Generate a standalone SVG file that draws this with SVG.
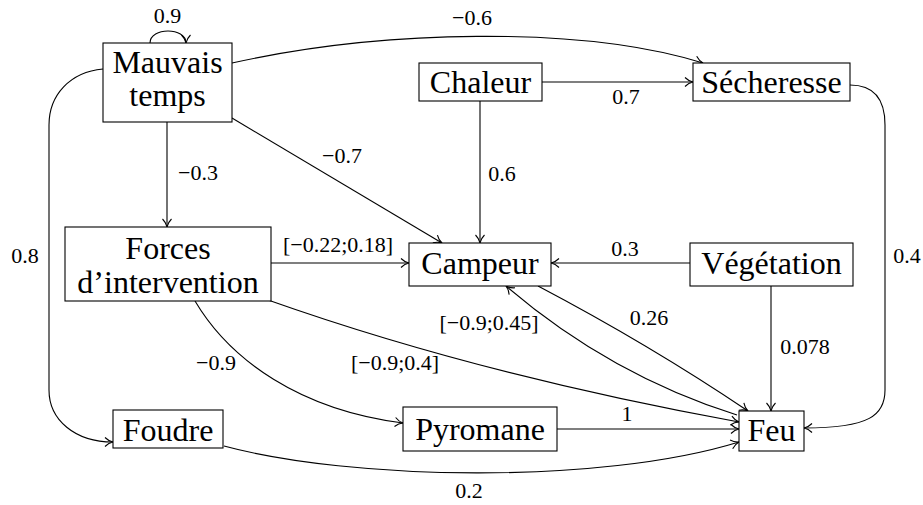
<svg xmlns="http://www.w3.org/2000/svg" width="923" height="505" viewBox="0 0 923 505">
<style>
.box{fill:#fff;stroke:#000;stroke-width:1.1}
.e{fill:none;stroke:#000;stroke-width:1.1;marker-end:url(#arr)}
</style>
<defs>
<marker id="arr" markerUnits="userSpaceOnUse" markerWidth="12" markerHeight="12" viewBox="-10 -6 12 12" refX="0" refY="0" orient="auto" overflow="visible">
<path d="M-8,-4.5 C-5,-1.5 -2,-0.4 0,0 C-2,0.4 -5,1.5 -8,4.5" fill="none" stroke="#000" stroke-width="1.1"/>
</marker>
</defs>
<rect width="923" height="505" fill="#fff"/>
<g id="connectors">
<path class="e" d="M150,43 C150,27 186,27 186,43"/>
<path class="e" d="M232,63 C380,30 580,25 703,63"/>
<path class="e" d="M542,82 L693,82"/>
<path class="e" d="M480,101 L480,243"/>
<path class="e" d="M232,118 L442,243"/>
<path class="e" d="M167,122 L167,227"/>
<path class="e" d="M103,69 C70,72 49,95 49,125 L49,390 C49,420 75,442 113,442"/>
<path class="e" d="M850,85 C875,85 885,100 885,125 L885,390 C885,415 870,428 804,428"/>
<path class="e" d="M271,263 L409,263"/>
<path class="e" d="M690,263 L551,263"/>
<path class="e" d="M771,286 L771,411"/>
<path class="e" d="M538,286 Q 650,345 748,411"/>
<path class="e" d="M737,415 Q 610,375 506,286"/>
<path class="e" d="M268,300 Q 480,375 739,422"/>
<path class="e" d="M195,301 C230,360 300,410 403,423"/>
<path class="e" d="M557,429 L739,429"/>
<path class="e" d="M224,446 C350,480 600,485 739,442"/>
</g>
<g id="mauvais"><rect class="box" x="103" y="43" width="129" height="79"/><text font-family="Liberation Serif" font-size="32" text-anchor="middle" x="167.5" y="73">Mauvais</text><text font-family="Liberation Serif" font-size="32" text-anchor="middle" x="167.5" y="106">temps</text></g>
<g id="chaleur"><rect class="box" x="419" y="63" width="123" height="38"/><text font-family="Liberation Serif" font-size="32" text-anchor="middle" x="480.5" y="93">Chaleur</text></g>
<g id="secheresse"><rect class="box" x="693" y="63" width="157" height="38"/><text font-family="Liberation Serif" font-size="32" text-anchor="middle" x="771.5" y="93">Sécheresse</text></g>
<g id="forces"><rect class="box" x="65" y="227" width="206" height="74"/><text font-family="Liberation Serif" font-size="32" text-anchor="middle" x="168" y="259">Forces</text><text font-family="Liberation Serif" font-size="32" text-anchor="middle" x="168" y="293">d’intervention</text></g>
<g id="campeur"><rect class="box" x="409" y="243" width="142" height="43"/><text font-family="Liberation Serif" font-size="32" text-anchor="middle" x="480" y="274">Campeur</text></g>
<g id="vegetation"><rect class="box" x="690" y="243" width="163" height="43"/><text font-family="Liberation Serif" font-size="32" text-anchor="middle" x="771.5" y="274">Végétation</text></g>
<g id="foudre"><rect class="box" x="113" y="410" width="110" height="38"/><text font-family="Liberation Serif" font-size="32" text-anchor="middle" x="168" y="441">Foudre</text></g>
<g id="pyromane"><rect class="box" x="403" y="407" width="154" height="44"/><text font-family="Liberation Serif" font-size="32" text-anchor="middle" x="480" y="440">Pyromane</text></g>
<g id="feu"><rect class="box" x="739" y="411" width="65" height="40"/><text font-family="Liberation Serif" font-size="32" text-anchor="middle" x="771.5" y="441">Feu</text></g>
<g id="labels">
<text font-family="Liberation Serif" font-size="22" text-anchor="middle" x="167.5" y="23">0.9</text>
<text font-family="Liberation Serif" font-size="22" text-anchor="middle" x="472" y="25">−0.6</text>
<text font-family="Liberation Serif" font-size="22" text-anchor="middle" x="626" y="104">0.7</text>
<text font-family="Liberation Serif" font-size="22" text-anchor="middle" x="198" y="180">−0.3</text>
<text font-family="Liberation Serif" font-size="22" text-anchor="middle" x="342" y="163">−0.7</text>
<text font-family="Liberation Serif" font-size="22" text-anchor="middle" x="502" y="181">0.6</text>
<text font-family="Liberation Serif" font-size="22" text-anchor="middle" x="25" y="263">0.8</text>
<text font-family="Liberation Serif" font-size="22" text-anchor="middle" x="907" y="263">0.4</text>
<text font-family="Liberation Serif" font-size="22" text-anchor="middle" x="338" y="252">[−0.22;0.18]</text>
<text font-family="Liberation Serif" font-size="22" text-anchor="middle" x="625" y="256">0.3</text>
<text font-family="Liberation Serif" font-size="22" text-anchor="middle" x="649" y="325">0.26</text>
<text font-family="Liberation Serif" font-size="22" text-anchor="middle" x="489" y="330">[−0.9;0.45]</text>
<text font-family="Liberation Serif" font-size="22" text-anchor="middle" x="805" y="354">0.078</text>
<text font-family="Liberation Serif" font-size="22" text-anchor="middle" x="216" y="370">−0.9</text>
<text font-family="Liberation Serif" font-size="22" text-anchor="middle" x="395" y="370">[−0.9;0.4]</text>
<text font-family="Liberation Serif" font-size="22" text-anchor="middle" x="627" y="421">1</text>
<text font-family="Liberation Serif" font-size="22" text-anchor="middle" x="469" y="498">0.2</text>
</g>
</svg>
